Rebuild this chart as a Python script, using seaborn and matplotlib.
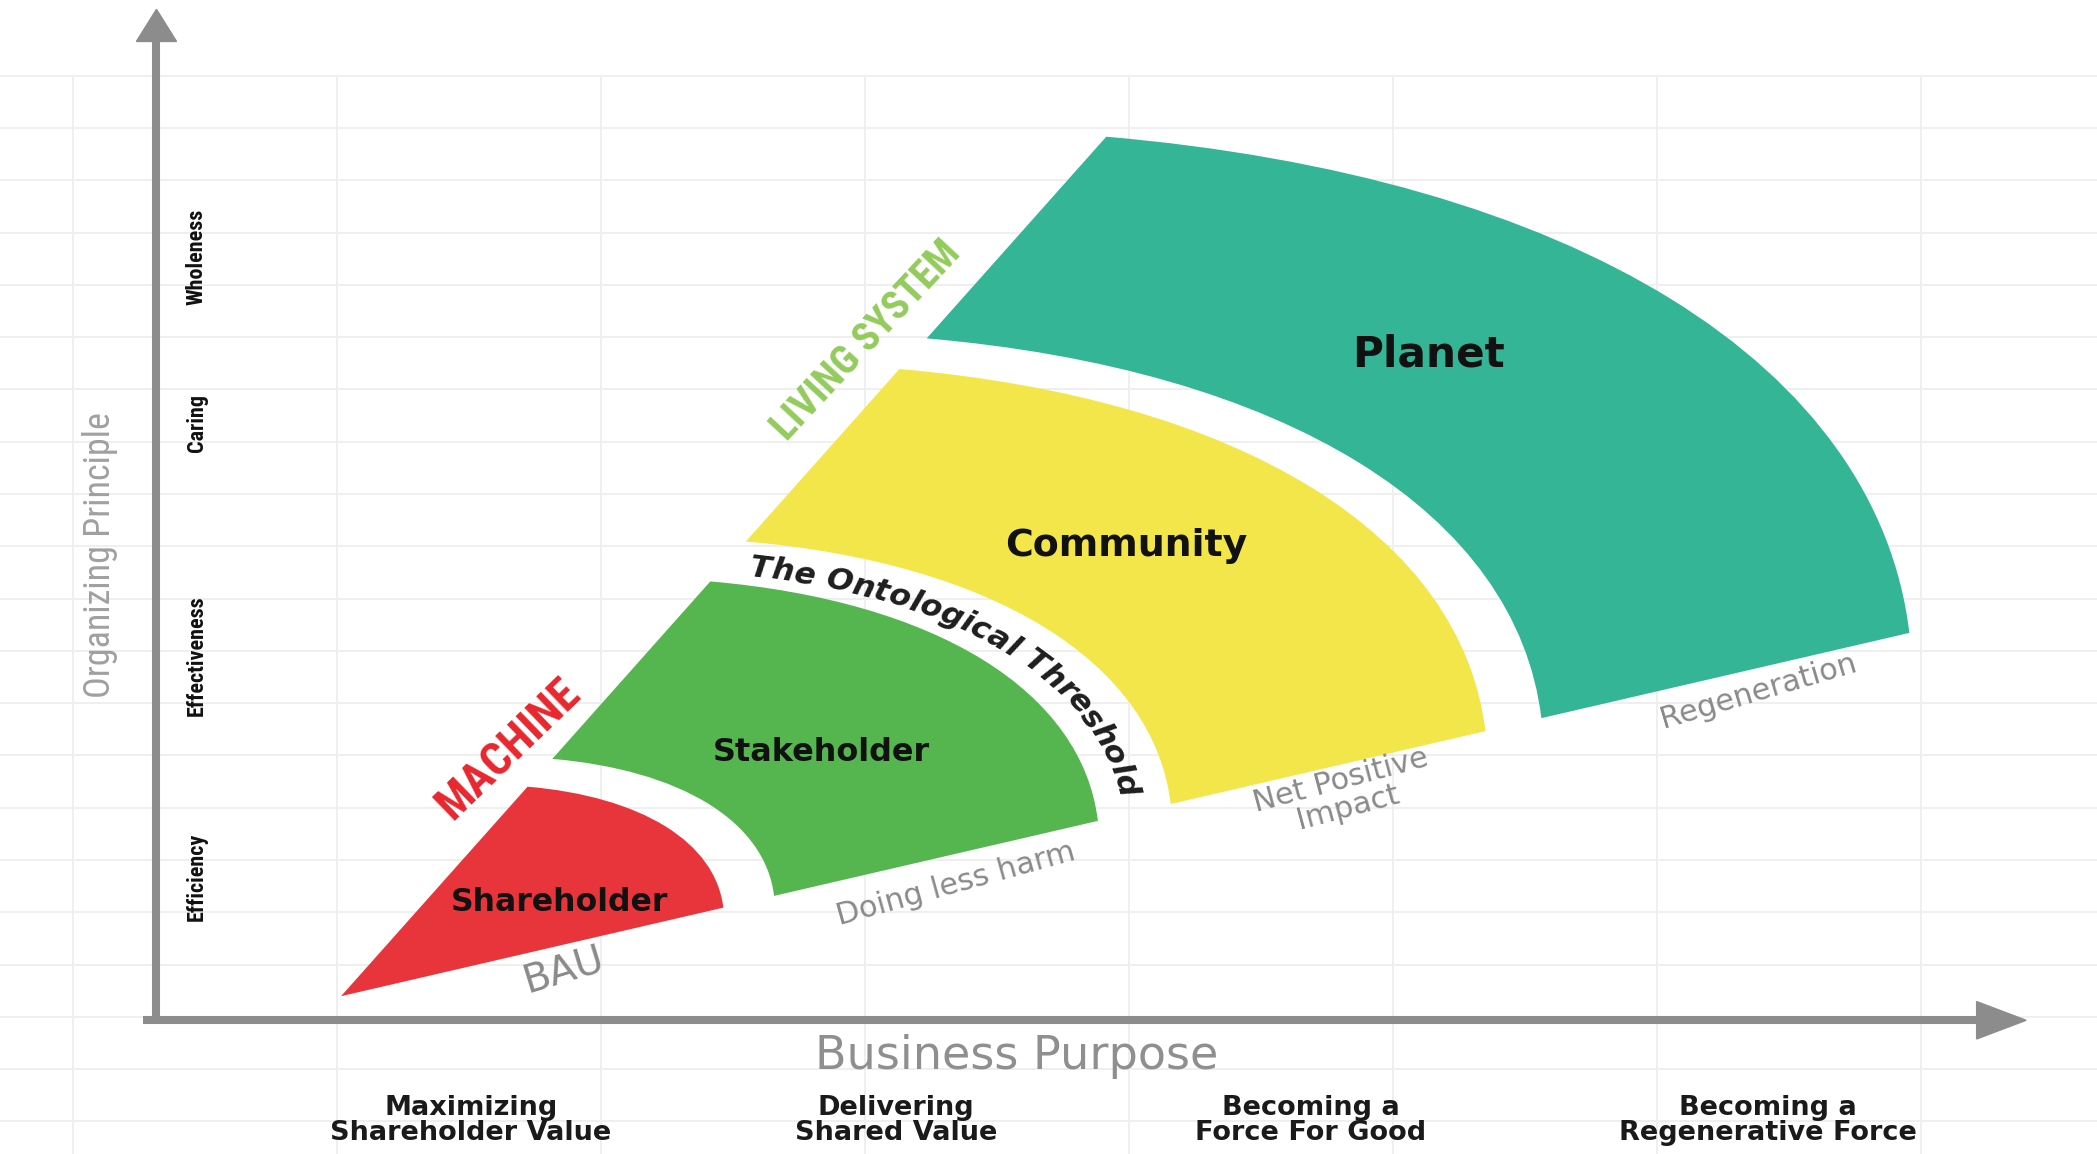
import numpy as np
import matplotlib
matplotlib.use("Agg")
import matplotlib.pyplot as plt
import seaborn as sns
from matplotlib.patches import Wedge
from matplotlib import font_manager
from matplotlib.font_manager import FontProperties
from matplotlib.textpath import TextToPath
from matplotlib.transforms import Affine2D

# ---------------- data ----------------
stages = ["Shareholder", "Stakeholder", "Community", "Planet"]
stage_inner = [0, 333, 638, 923]
stage_outer = [294, 582, 880, 1206]
stage_colors = ["#E8353B", "#55B650", "#F3E64A", "#33B596"]
outcomes = ["BAU", "Doing less harm", "Net Positive\nImpact", "Regeneration"]
purposes = ["Maximizing\nShareholder Value", "Delivering\nShared Value",
            "Becoming a\nForce For Good", "Becoming a\nRegenerative Force"]
principles = ["Efficiency", "Effectiveness", "Caring", "Wholeness"]
worldviews = ["MACHINE", "LIVING SYSTEM"]
worldview_colors = ["#E8262E", "#93CB5C"]
threshold_label = "The Ontological Threshold"
x_title = "Business Purpose"
y_title = "Organizing Principle"

# ------------- layout (reference frame 1568 x 863) -------------
W, H = 1568, 863
DPI = 100
FIG_W, FIG_H = 2097, 1154
PT2REF = (DPI / 72) * (W / FIG_W)   # reference px per point
TH1, TH2 = -4.0, 53.4               # fan opening angles (before tilt/squeeze)
FAN_Q, FAN_ROT = 0.4883, 15.0       # squeeze and tilt of the fan
GREY = "#8C8C8C"


def Y(y):
    return H - y


sns.set_theme(style="white")
palette = sns.color_palette(stage_colors)

available = {f.name for f in font_manager.fontManager.ttflist}


def pick(*names):
    for n in names:
        if n in available:
            return n
    return "DejaVu Sans"


NARROW = pick("Liberation Sans Narrow", "DejaVu Sans Condensed", "Roboto Condensed",
              "Open Sans Condensed", "Noto Sans", "Roboto")
WIDE = "DejaVu Sans"
plt.rcParams["font.family"] = [WIDE]

t2p = TextToPath()


def width_ref(s, family, weight="normal", style="normal", size=100):
    fp = FontProperties(family=family, weight=weight, style=style, size=size)
    w, h, d = t2p.get_text_width_height_descent(s, fp, ismath=False)
    return w * PT2REF


def fit(s, target, family, weight="normal", style="normal"):
    return 100 * target / width_ref(s, family, weight, style, 100)


fig = plt.figure(figsize=(FIG_W / DPI, FIG_H / DPI), dpi=DPI)
fig.patch.set_facecolor("white")
ax = fig.add_axes([0, 0, 1, 1])
ax.set_xlim(0, W)
ax.set_ylim(0, H)
ax.axis("off")

# ---- faint background grid ----
grid_x = 54.6 + 197.4 * np.arange(8)
grid_y = 56.6 + 39.1 * np.arange(21)
ax.vlines(grid_x, Y(H), Y(56.6), color="#efefef", lw=1.4, zorder=0)
ax.hlines(Y(grid_y), 0, W, color="#efefef", lw=1.4, zorder=0)

# ---- axes with arrows ----
AX_X, AX_Y = 117, 763
ax.plot([AX_X, AX_X], [Y(AX_Y + 3), Y(28)], color=GREY, lw=5.8,
        solid_capstyle="butt", zorder=3)
ax.fill([AX_X - 15, AX_X + 15, AX_X], [Y(31), Y(31), Y(7)], color=GREY, zorder=3)
ax.plot([107, 1482], [Y(AX_Y), Y(AX_Y)], color=GREY, lw=5.8,
        solid_capstyle="butt", zorder=3)
ax.fill([1478, 1478, 1515], [Y(AX_Y - 14), Y(AX_Y + 14), Y(AX_Y)], color=GREY, zorder=3)

# ---- fan of stages (circular fan, squeezed and tilted) ----
O = (255, Y(745))
fan_tf = Affine2D().scale(1, FAN_Q).rotate_deg(FAN_ROT).translate(*O)

for name, r0, r1, col in zip(stages, stage_inner, stage_outer, palette):
    ax.add_patch(Wedge((0, 0), r1, TH1, TH2, width=(r1 - r0) if r0 > 0 else None,
                       facecolor=col, edgecolor="none", zorder=2,
                       transform=fan_tf + ax.transData))

stage_label_xy = [(418, 675), (614, 563), (842, 408), (1068, 265)]
stage_label_w = [175, 175, 195, 123]
for name, (x, y), tw in zip(stages, stage_label_xy, stage_label_w):
    fs = 0.93 * fit(name, tw, WIDE, "bold")
    ax.text(x, Y(y), name, fontsize=fs, fontweight="bold", color="#111111",
            ha="center", va="center", zorder=5)

# ---- outcome labels under the fan ----
outcome_xy = [(421, 725), (715, 661), (1005, 594), (1315, 517)]
outcome_rot = [17, 15.5, 15, 16.5]
fs_out = fit("Regeneration", 152, WIDE)
fs_bau = fit("BAU", 62, WIDE)
for lab, (x, y), rot in zip(outcomes, outcome_xy, outcome_rot):
    ax.text(x, Y(y), lab, fontsize=fs_bau if lab == "BAU" else fs_out, color="#8A8A8A",
            rotation=rot, rotation_mode="anchor", ha="center", va="center",
            multialignment="center", linespacing=0.95, zorder=5)

# ---- worldview labels ----
wv_pos = [(380, 560), (648, 255)]
wv_rot = [44, 47]
wv_len = [135, 192]
for lab, (x, y), rot, L, c in zip(worldviews, wv_pos, wv_rot, wv_len, worldview_colors):
    fs = fit(lab, L, NARROW, "bold")
    ax.text(x, Y(y), lab, fontsize=fs, fontweight="bold", family=NARROW, color=c,
            rotation=rot, rotation_mode="anchor", ha="center", va="center", zorder=5)

# ---- curved threshold text along the gap between Stakeholder and Community ----
R_T, PH_S, PH_E = 609, 51.5, -1.5
fs_t = 22.5
fp_kw = dict(family=WIDE, weight="bold", style="italic")
phs = np.radians(np.linspace(PH_S, PH_E, 6000))
pts = fan_tf.transform(np.column_stack([R_T * np.cos(phs), R_T * np.sin(phs)]))
xs, ys = pts[:, 0], pts[:, 1]
s = np.concatenate([[0], np.cumsum(np.hypot(np.diff(xs), np.diff(ys)))])
bar = width_ref("|", size=fs_t, **fp_kw)
pref = [width_ref(threshold_label[:i] + "|", size=fs_t, **fp_kw) - bar
        for i in range(len(threshold_label) + 1)]
natural = pref[-1]
extra = (s[-1] - natural) / (len(threshold_label) - 1)
for i, ch in enumerate(threshold_label):
    c = (pref[i] + pref[i + 1]) / 2 + i * extra
    k = int(np.clip(np.searchsorted(s, c), 1, len(s) - 2))
    ang = np.degrees(np.arctan2(ys[k + 1] - ys[k - 1], xs[k + 1] - xs[k - 1]))
    if ch.strip():
        ax.text(xs[k], ys[k], ch, fontsize=fs_t, fontweight="bold",
                fontstyle="italic", color="#1E1E1E", rotation=ang,
                rotation_mode="anchor", ha="center", va="center_baseline", zorder=5)

# ---- y axis: organizing principle ----
fs_yt = fit(y_title, 214, NARROW)
ax.text(75, Y(415), y_title, fontsize=fs_yt, family=NARROW, color="#A0A0A0",
        rotation=90, ha="center", va="center")
principle_y = [656, 490, 316, 192]
fs_pr = fit("Effectiveness", 90, NARROW, "bold")
for lab, y in zip(principles, principle_y):
    ax.text(147, Y(y), lab, fontsize=fs_pr, family=NARROW, fontweight="bold",
            color="#111111", rotation=90, ha="center", va="center")

# ---- x axis: business purpose ----
fs_xt = 0.93 * fit(x_title, 324, WIDE)
ax.text(760, Y(790), x_title, fontsize=fs_xt, color="#8F8F8F", ha="center", va="center")
purpose_x = [352, 670, 980, 1322]
fs_pu = 0.95 * fit("Shareholder Value", 222, WIDE, "bold")
for lab, x in zip(purposes, purpose_x):
    ax.text(x, Y(838), lab, fontsize=fs_pu, fontweight="bold", color="#1A1A1A",
            ha="center", va="center", multialignment="center", linespacing=0.95)

fig.savefig("out.png", dpi=DPI, facecolor="white")
